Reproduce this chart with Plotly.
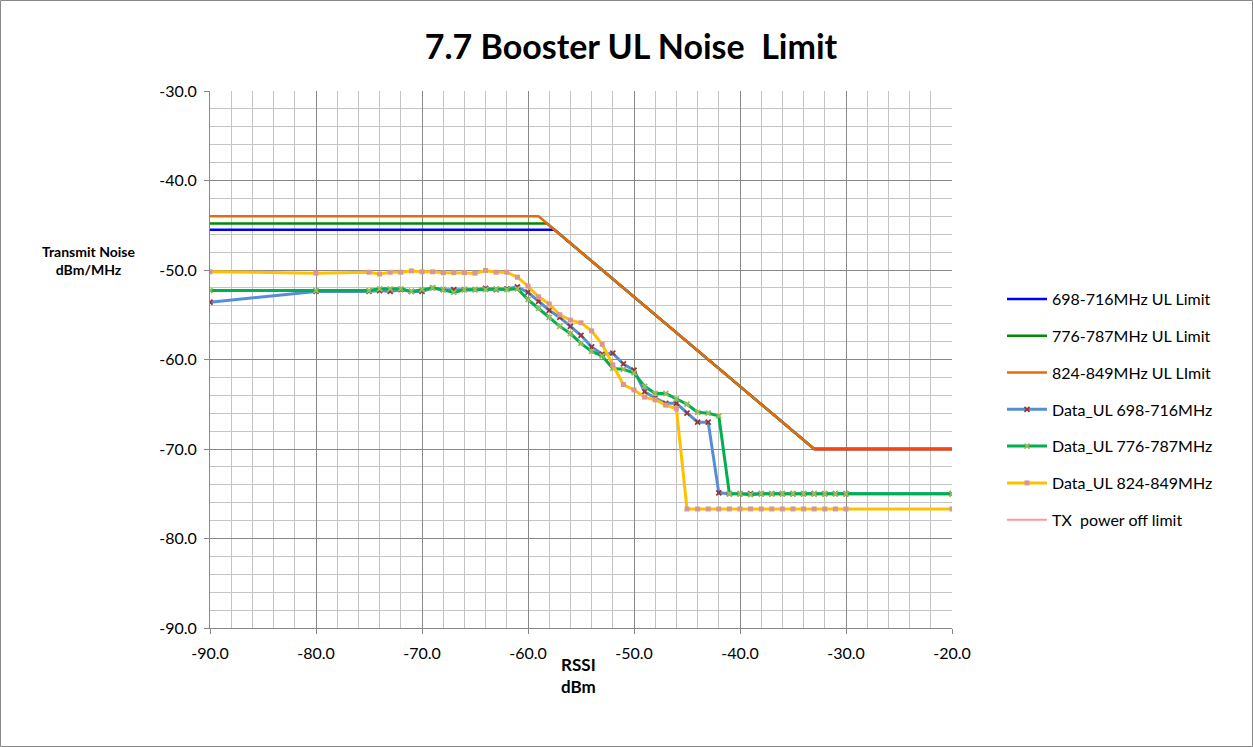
import plotly.graph_objects as go

# ---------------- data ----------------
x_data = [-90, -80, -75, -74, -73, -72, -71, -70, -69, -68, -67, -66, -65, -64, -63, -62, -61,
          -60, -59, -58, -57, -56, -55, -54, -53, -52, -51, -50, -49, -48, -47, -46, -45, -44,
          -43, -42, -41, -40, -39, -38, -37, -36, -35, -34, -33, -32, -31, -30, -20]

data_698 = [-53.6, -52.4, -52.4, -52.3, -52.4, -52.2, -52.4, -52.4, -52.0, -52.2, -52.2, -52.2, -52.2,
            -52.05, -52.2, -52.1, -51.9, -52.5, -53.5, -54.5, -55.3, -56.3, -57.3, -58.6, -59.4,
            -59.3, -60.5, -61.2, -63.6, -64.3, -64.9, -64.9, -66.0, -67.0, -67.0, -74.9, -75.0,
            -75.0, -75.0, -75.0, -75.0, -75.0, -75.0, -75.0, -75.0, -75.0, -75.0, -75.0, -75.0]

data_776 = [-52.3, -52.3, -52.3, -52.1, -52.1, -52.1, -52.4, -52.2, -52.0, -52.2, -52.5, -52.2, -52.2,
            -52.2, -52.1, -52.2, -52.1, -53.3, -54.3, -55.3, -56.3, -57.1, -58.2, -59.1, -59.6,
            -61.0, -61.1, -61.5, -63.0, -63.8, -63.8, -64.4, -65.0, -65.9, -66.0, -66.3, -75.0,
            -75.0, -75.1, -75.0, -75.0, -75.0, -75.0, -75.0, -75.0, -75.0, -75.0, -75.0, -75.0]

data_824 = [-50.2, -50.35, -50.25, -50.45, -50.25, -50.25, -50.1, -50.2, -50.2, -50.3, -50.3, -50.3,
            -50.35, -50.05, -50.25, -50.25, -50.8, -51.8, -53.0, -53.8, -55.0, -55.6, -55.9, -56.8,
            -58.3, -60.6, -62.8, -63.4, -64.2, -64.5, -65.1, -65.5, -76.7, -76.7, -76.7, -76.7,
            -76.7, -76.7, -76.7, -76.7, -76.7, -76.7, -76.7, -76.7, -76.7, -76.7, -76.7, -76.7, -76.7]

lim_698_x = [-90, -57.5, -33, -20]
lim_698_y = [-45.5, -45.5, -70, -70]
lim_776_x = [-90, -58.2, -33, -20]
lim_776_y = [-44.8, -44.8, -70, -70]
lim_824_x = [-90, -59, -33, -20]
lim_824_y = [-44, -44, -70, -70]
tx_off_x = [-33, -20]
tx_off_y = [-70, -70]

x_ticks = [-90, -80, -70, -60, -50, -40, -30, -20]
x_tick_text = ["-90.0", "-80.0", "-70.0", "-60.0", "-50.0", "-40.0", "-30.0", "-20.0"]
y_ticks = [-90, -80, -70, -60, -50, -40, -30]
y_tick_text = ["-90.0", "-80.0", "-70.0", "-60.0", "-50.0", "-40.0", "-30.0"]

names = ["698-716MHz UL Limit", "776-787MHz UL Limit", "824-849MHz UL LImit",
         "Data_UL 698-716MHz", "Data_UL 776-787MHz", "Data_UL 824-849MHz", "TX  power off limit"]

# ---------------- figure ----------------
W, H = 1253, 747
L, R, T, B = 210, 301, 91, 119
pw, ph = W - L - R, H - T - B
font = "Lato, Carlito, Calibri, sans-serif"

fig = go.Figure()
fig.add_trace(go.Scatter(x=lim_698_x, y=lim_698_y, mode="lines", name=names[0],
                         line=dict(color="#0000FF", width=2.5), legendgroup="a", legendrank=1))
fig.add_trace(go.Scatter(x=lim_776_x, y=lim_776_y, mode="lines", name=names[1],
                         line=dict(color="#008A00", width=2.5), legendgroup="b", legendrank=2))
fig.add_trace(go.Scatter(x=lim_824_x, y=lim_824_y, mode="lines", name=names[2],
                         line=dict(color="#E46C0A", width=2.5), legendgroup="c", legendrank=3))
fig.add_trace(go.Scatter(x=x_data, y=data_698, mode="lines+markers", name=names[3],
                         line=dict(color="#558ED5", width=3),
                         marker=dict(symbol="x-thin", size=5, line=dict(color="#953735", width=1.8),
                                     color="#953735"),
                         legendgroup="d", legendrank=4))
fig.add_trace(go.Scatter(x=x_data, y=data_776, mode="lines+markers", name=names[4],
                         line=dict(color="#00B050", width=3),
                         marker=dict(symbol="x-thin", size=5, line=dict(color="#9BBB59", width=1.8),
                                     color="#9BBB59"),
                         legendgroup="e", legendrank=5))
fig.add_trace(go.Scatter(x=x_data, y=data_824, mode="lines+markers", name=names[5],
                         line=dict(color="#FFC000", width=3),
                         marker=dict(symbol="square", size=5, color="#D99694"),
                         legendgroup="f", legendrank=6))
fig.add_trace(go.Scatter(x=tx_off_x, y=tx_off_y, mode="lines", name=names[6],
                         line=dict(color="#FF9999", width=2), legendgroup="g", legendrank=7))
fig.add_trace(go.Scatter(x=tx_off_x, y=tx_off_y, mode="lines", showlegend=False,
                         line=dict(color="#F84414", width=3), hoverinfo="skip"))

fig.update_layout(
    width=W, height=H,
    margin=dict(l=L, r=R, t=T, b=B),
    paper_bgcolor="white", plot_bgcolor="white",
    font=dict(family=font, size=16, color="#000000"),
    title=dict(text="<b>7.7 Booster UL Noise  Limit</b>", x=(631 - L) / pw, xanchor="center", xref="paper",
               y=1 - 47 / H, yanchor="middle", font=dict(size=34, family=font)),
    showlegend=True,
    legend=dict(x=1.0 + (1002 - 952) / pw, xanchor="left",
                y=1 - (282 - T) / ph, yanchor="top",
                font=dict(size=16, family=font), tracegroupgap=13,
                bgcolor="rgba(0,0,0,0)", itemwidth=40),
)

fig.update_xaxes(range=[-90, -20], tickvals=x_ticks, ticktext=x_tick_text,
                 showgrid=True, gridcolor="#878787", gridwidth=1,
                 minor=dict(dtick=2, tick0=-90, showgrid=True, gridcolor="#C4C4C4", gridwidth=1),
                 showline=True, linecolor="#878787", linewidth=1,
                 ticks="outside", ticklen=5, tickcolor="#878787", ticklabelstandoff=6,
                 tickfont=dict(size=16, family=font), zeroline=False)
fig.update_yaxes(range=[-90, -30], tickvals=y_ticks, ticktext=y_tick_text,
                 showgrid=True, gridcolor="#878787", gridwidth=1,
                 minor=dict(dtick=2, tick0=-90, showgrid=True, gridcolor="#C4C4C4", gridwidth=1),
                 showline=True, linecolor="#878787", linewidth=1,
                 ticks="outside", ticklen=5, tickcolor="#878787", ticklabelstandoff=4,
                 tickfont=dict(size=16, family=font), zeroline=False)

# axis titles
fig.add_annotation(text="<b>Transmit Noise<br>dBm/MHz</b>", xref="paper", yref="paper",
                   x=(88 - L) / pw, y=1 - (260 - T) / ph, xanchor="center", yanchor="middle",
                   showarrow=False, font=dict(size=14, family=font), align="center")
fig.add_annotation(text="<b>RSSI<br>dBm</b>", xref="paper", yref="paper",
                   x=(578 - L) / pw, y=1 - (675 - T) / ph, xanchor="center", yanchor="middle",
                   showarrow=False, font=dict(size=17, family=font), align="center")

# outer chart border
fig.add_shape(type="rect", xref="paper", yref="paper",
              x0=(0.5 - L) / pw, x1=(W - 0.5 - L) / pw,
              y0=-(B - 0.5) / ph, y1=1 + (T - 0.5) / ph,
              line=dict(color="#888888", width=1), layer="below")

fig.write_html("out.html", config={"displayModeBar": False},
               post_script="document.body.style.margin='0';document.body.style.overflow='hidden';")
